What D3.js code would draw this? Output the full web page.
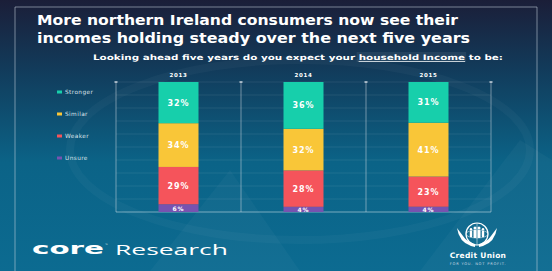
<!DOCTYPE html>
<html>
<head>
<meta charset="utf-8">
<script src="https://cdn.jsdelivr.net/npm/d3@7"></script>
<style>
  html, body { margin: 0; padding: 0; background: #0d6a8f; }
  svg { display: block; }
  text { font-family: "DejaVu Sans", sans-serif; }
</style>
</head>
<body>
<div id="chart"></div>
<script>
// data
const years = ['2013', '2014', '2015'];
const answers = ['Stronger', 'Similar', 'Weaker', 'Unsure'];
const stronger = [32, 36, 31];
const similar = [34, 32, 41];
const weaker = [29, 28, 23];
const unsure = [6, 4, 4];
const colors = ['#17cfab', '#f9c638', '#f5545b', '#7753b0'];

const width = 552;
const height = 271;

const svg = d3.select('#chart')
    .append('svg')
    .attr('width', width)
    .attr('height', height);

// background gradient
const defs = svg.append('defs');
const grad = defs.append('linearGradient')
    .attr('id', 'bg')
    .attr('x1', 0).attr('y1', 0).attr('x2', 0).attr('y2', 1);
grad.append('stop').attr('offset', '0%').attr('stop-color', '#1b1e38');
grad.append('stop').attr('offset', '28%').attr('stop-color', '#113e5e');
grad.append('stop').attr('offset', '60%').attr('stop-color', '#0b6387');
grad.append('stop').attr('offset', '100%').attr('stop-color', '#0c6b91');

svg.append('rect')
    .attr('width', width)
    .attr('height', height)
    .attr('fill', 'url(#bg)');

// faint watermark shapes
svg.append('ellipse')
    .attr('cx', 300).attr('cy', 150).attr('rx', 230).attr('ry', 90)
    .attr('fill', 'none').attr('stroke', '#ffffff').attr('stroke-opacity', 0.03).attr('stroke-width', 8);
svg.append('path')
    .attr('d', 'M150,271 L230,170 L300,271 Z')
    .attr('fill', '#ffffff').attr('opacity', 0.03);
svg.append('path')
    .attr('d', 'M420,271 L520,140 L552,160 L552,271 Z')
    .attr('fill', '#ffffff').attr('opacity', 0.03);

// frame
svg.append('path')
    .attr('d', 'M15,271 L15,7 L537,7 L537,271')
    .attr('fill', 'none')
    .attr('stroke', '#c9d3de')
    .attr('stroke-opacity', 0.55)
    .attr('stroke-width', 1);

// title, stretched to the width of the original heading
const titleLines = [
    { text: 'More northern Ireland consumers now see their', y: 25, len: 421 },
    { text: 'incomes holding steady over the next five years', y: 43, len: 433 }
];
svg.selectAll('.title')
    .data(titleLines)
    .enter().append('text')
    .attr('class', 'title')
    .attr('x', 37)
    .attr('y', d => d.y)
    .attr('textLength', d => d.len)
    .attr('lengthAdjust', 'spacingAndGlyphs')
    .attr('fill', '#ffffff')
    .style('font-size', '14px')
    .style('font-weight', 'bold')
    .text(d => d.text);

// subtitle with underlined part
svg.append('rect')
    .attr('x', 355).attr('y', 52).attr('width', 112).attr('height', 10)
    .attr('fill', '#ffffff').attr('opacity', 0.07)
    .attr('id', 'hl');
const sub = svg.append('text')
    .attr('x', 93)
    .attr('y', 60)
    .attr('fill', '#ffffff')
    .attr('textLength', 410)
    .attr('lengthAdjust', 'spacingAndGlyphs')
    .style('font-size', '7.5px')
    .style('font-weight', 'bold');
sub.append('tspan').text('Looking ahead five years do you expect your  ');
const hh = sub.append('tspan').attr('text-decoration', 'underline').text('household Income');
sub.append('tspan').text(' to be:');
// move highlight box under the underlined words
try {
    const n = hh.node();
    const first = n.getStartPositionOfChar(0).x;
    const last = n.getEndPositionOfChar(n.getNumberOfChars() - 1).x;
    d3.select('#hl').attr('x', first - 2).attr('width', last - first + 3);
} catch (e) {}

// chart
const x0 = 116, x1 = 491, yTop = 82, yBottom = 212;

const xScale = d3.scaleBand()
    .domain(years)
    .range([x0, x1]);

const yScale = d3.scaleLinear()
    .domain([0, 1])
    .range([yBottom, yTop]);

// grid lines
const grid = d3.range(0, 1.0001, 0.1);
svg.selectAll('.grid')
    .data(grid)
    .enter().append('line')
    .attr('class', 'grid')
    .attr('x1', x0).attr('x2', x1)
    .attr('y1', d => yScale(d)).attr('y2', d => yScale(d))
    .attr('stroke', '#ffffff')
    .attr('stroke-opacity', d => d === 0 ? 0.45 : 0.08);

// verticals
const vlines = [x0].concat(years.map(y => xScale(y) + xScale.bandwidth()));
svg.selectAll('.vline')
    .data(vlines)
    .enter().append('line')
    .attr('class', 'vline')
    .attr('x1', d => d).attr('x2', d => d)
    .attr('y1', yTop).attr('y2', yBottom)
    .attr('stroke', '#d5dde6')
    .attr('stroke-opacity', 0.5);
svg.selectAll('.vcap')
    .data(vlines)
    .enter().append('rect')
    .attr('class', 'vcap')
    .attr('x', d => d - 1.5).attr('y', yTop - 1)
    .attr('width', 3).attr('height', 2)
    .attr('fill', '#d5dde6')
    .attr('opacity', 0.7);

// stack data
const rows = years.map((yr, i) => {
    const vals = [unsure[i], weaker[i], similar[i], stronger[i]];
    const total = d3.sum(vals);
    return { year: yr, vals: vals, total: total };
});
const order = ['Unsure', 'Weaker', 'Similar', 'Stronger'];
const barWidth = 40;

rows.forEach(row => {
    let acc = 0;
    const cx = xScale(row.year) + xScale.bandwidth() / 2;
    row.vals.forEach((v, j) => {
        const start = acc / row.total;
        acc += v;
        const end = acc / row.total;
        const name = order[j];
        const color = colors[answers.indexOf(name)];
        svg.append('rect')
            .attr('x', cx - barWidth / 2)
            .attr('y', yScale(end))
            .attr('width', barWidth)
            .attr('height', yScale(start) - yScale(end))
            .attr('fill', color);
        const h = yScale(start) - yScale(end);
        svg.append('text')
            .attr('x', cx)
            .attr('y', (yScale(start) + yScale(end)) / 2 + (h < 10 ? 2.5 : 3))
            .attr('text-anchor', 'middle')
            .attr('fill', '#ffffff')
            .style('font-size', h < 10 ? '6px' : '8px')
            .style('font-weight', 'bold')
            .style('letter-spacing', '0.9px')
            .text(v + '%');
    });
    svg.append('text')
        .attr('x', cx)
        .attr('y', 77)
        .attr('text-anchor', 'middle')
        .attr('fill', '#ffffff')
        .style('font-size', '5.5px')
        .style('font-weight', 'bold')
        .style('letter-spacing', '0.7px')
        .text(row.year);
});

// legend
const legend = svg.selectAll('.legend')
    .data(answers)
    .enter().append('g')
    .attr('class', 'legend')
    .attr('transform', (d, i) => 'translate(57,' + (92 + i * 22) + ')');
legend.append('rect')
    .attr('x', 0).attr('y', -1.5)
    .attr('width', 5).attr('height', 3)
    .attr('fill', (d, i) => colors[i]);
legend.append('text')
    .attr('x', 8).attr('y', 2)
    .attr('fill', '#d9e2ea')
    .style('font-size', '5.8px')
    .style('letter-spacing', '0.4px')
    .text(d => d);

// footer: core Research
svg.append('text')
    .attr('x', 32)
    .attr('y', 254)
    .attr('fill', '#ffffff')
    .attr('textLength', 72)
    .attr('lengthAdjust', 'spacingAndGlyphs')
    .style('font-size', '15px')
    .style('font-weight', 'bold')
    .text('core');
svg.append('text')
    .attr('x', 105)
    .attr('y', 246)
    .attr('fill', '#ffffff')
    .style('font-size', '3px')
    .text('™');
svg.append('text')
    .attr('x', 115)
    .attr('y', 255)
    .attr('fill', '#ffffff')
    .attr('textLength', 113)
    .attr('lengthAdjust', 'spacingAndGlyphs')
    .style('font-family', '"Open Sans", sans-serif')
    .style('font-size', '14px')
    .text('Research');

// credit union logo
const logo = svg.append('g').attr('transform', 'translate(477,234)');
logo.append('circle')
    .attr('r', 11)
    .attr('fill', 'none')
    .attr('stroke', '#ffffff')
    .attr('stroke-width', 1.2);
logo.append('ellipse')
    .attr('rx', 11).attr('ry', 4)
    .attr('fill', 'none').attr('stroke', '#ffffff').attr('stroke-width', 0.5);
logo.append('line')
    .attr('x1', 0).attr('x2', 0).attr('y1', -11).attr('y2', 11)
    .attr('stroke', '#ffffff').attr('stroke-width', 0.5);
[-6, -2, 2, 6].forEach((px, k) => {
    const s = k === 1 || k === 2 ? 1 : 0.8;
    logo.append('circle').attr('cx', px).attr('cy', -6 * s).attr('r', 1.5 * s).attr('fill', '#ffffff');
    logo.append('rect').attr('x', px - 1.5 * s).attr('y', -4 * s).attr('width', 3 * s).attr('height', 8 * s).attr('rx', 1).attr('fill', '#ffffff');
});
logo.append('path')
    .attr('d', 'M-20,-6 Q-18,8 -6,12 L-2,13 L-2,10 Q-10,8 -14,2 Z')
    .attr('fill', '#ffffff');
logo.append('path')
    .attr('d', 'M20,-6 Q18,8 6,12 L2,13 L2,10 Q10,8 14,2 Z')
    .attr('fill', '#ffffff');
svg.append('text')
    .attr('x', 478).attr('y', 258)
    .attr('text-anchor', 'middle')
    .attr('fill', '#ffffff')
    .style('font-size', '7.5px')
    .style('font-weight', 'bold')
    .style('letter-spacing', '0.3px')
    .text('Credit Union');
svg.append('text')
    .attr('x', 478).attr('y', 265)
    .attr('text-anchor', 'middle')
    .attr('fill', '#cfdbe4')
    .style('font-size', '3.6px')
    .style('letter-spacing', '0.8px')
    .text('FOR YOU. NOT PROFIT.');
</script>
</body>
</html>
